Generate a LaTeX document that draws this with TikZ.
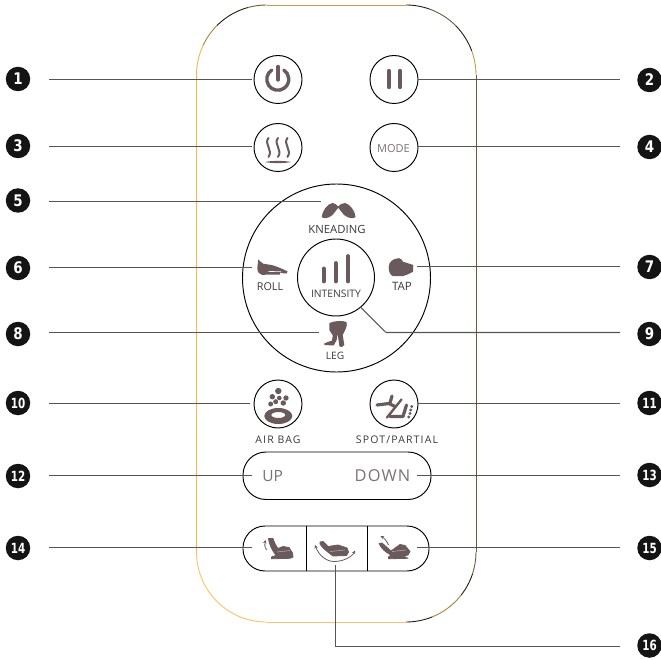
\documentclass[tikz,border=0pt]{standalone}
\usepackage{fontspec}
\setmainfont{Open Sans}
\newfontfamily\badgefont[FakeStretch=0.84]{DejaVu Sans}
\newfontfamily\badgefontb[FakeStretch=0.74]{DejaVu Sans}
\newfontfamily\spacedfont[LetterSpace=11]{Open Sans}
\newfontfamily\downfont[LetterSpace=7]{Open Sans}
\usetikzlibrary{arrows.meta,calc}
\definecolor{ink}{HTML}{6A5A5C}
\definecolor{wire}{HTML}{555555}
\definecolor{labelc}{HTML}{3A3A3A}
\definecolor{greyc}{HTML}{7C7072}
\definecolor{oa}{HTML}{F8B744}
\definecolor{ob}{HTML}{FBC363}
\definecolor{ta}{HTML}{C79A4F}
\definecolor{tb}{HTML}{A98436}
\definecolor{da}{HTML}{241C10}
\definecolor{db}{HTML}{6E5C38}
\tikzset{
  rim/.style={line width=0.9pt},
  btn/.style={circle,draw=black,line width=0.95pt,minimum size=48pt,inner sep=0pt,outer sep=0pt,fill=none},
  pill/.style={draw=black,line width=0.95pt,rounded corners=23pt,inner sep=0pt,outer sep=0pt},
  badge/.style={circle,fill=black!92,minimum size=24.5pt,inner sep=0pt,text=white,font=\badgefont\bfseries\fontsize{16}{16}\selectfont},
  badgeb/.style={badge,font=\badgefontb\bfseries\fontsize{14}{14}\selectfont},
  lead/.style={draw=wire,line width=1.05pt},
  lab/.style={text=labelc,inner sep=0pt,font=\fontsize{10.8}{12}\selectfont},
  spaced/.style={text=labelc,inner sep=0pt,font=\spacedfont\fontsize{10.5}{12}\selectfont},
  bigt/.style={text=greyc,inner sep=0pt,font=\fontsize{15.5}{17}\selectfont},
  icon/.style={line width=3.4pt,draw=ink,line cap=round},
  wave/.style={line width=2pt,draw=ink,line cap=round},
  mass/.style={fill=ink,draw=ink,line width=0.8pt,line join=round},
  seatline/.style={draw=ink!35,line width=0.4pt},
  swing/.style={line width=0.8pt,draw=ink},
}
\begin{document}
\begin{tikzpicture}[x=1pt,y=1pt,yscale=-1]
\useasboundingbox (0,0) rectangle (661,660);
% body outline, colour changing along the rim
\foreach \a/\b/\c in {180/205/oa,205/225/tb,225/255/da,255/270/db}
  \draw[rim,draw=\c] ({266.5+70*cos(\a)},{75+70*sin(\a)}) arc[start angle=\a,end angle=\b,radius=70pt];
\foreach \a/\b/\c in {270/290/da,290/315/db,315/340/da,340/360/ta}
  \draw[rim,draw=\c] ({406+70*cos(\a)},{75+70*sin(\a)}) arc[start angle=\a,end angle=\b,radius=70pt];
\foreach \a/\b/\c in {0/18/db,18/38/da,38/68/tb,68/90/da}
  \draw[rim,draw=\c] ({406+70*cos(\a)},{552+70*sin(\a)}) arc[start angle=\a,end angle=\b,radius=70pt];
\draw[rim,draw=ob] (266.5,622) arc[start angle=90,end angle=180,radius=70pt];
\draw[rim,draw=oa] (196.5,75) -- (196.5,552);
\draw[rim,draw=ob] (266.5,622) -- (406,622);
\draw[rim,draw=db] (476,75) -- (476,552);
\draw[rim,draw=ta] (266.5,5) -- (406,5);

% buttons
\node[btn] (power) at (278,79.5) {};
\node[btn] (pause) at (394,79.5) {};
\node[btn] (heat) at (278,147.5) {};
\node[btn] (mode) at (394,147.5) {};
\node[text=greyc,inner sep=0pt,font=\fontsize{11}{12}\selectfont] (modet) at (393.5,149) {MODE};
\node[btn,minimum size=188pt] (ring) at (336.5,278) {};
\node[btn,minimum size=77pt] (inner) at (336,277.5) {};
\node[btn] (air) at (278,404) {};
\node[btn] (spot) at (394,404) {};
\node[pill,minimum width=188pt,minimum height=47.5pt] (updown) at (337,475.75) {};
\node[pill,rounded corners=22pt,minimum width=186pt,minimum height=45pt] (recline) at (336,548.5) {};
\draw[draw=black,line width=1pt] (306,526) -- (306,571);
\draw[draw=black,line width=1pt] (367,526) -- (367,571);

% labels
\node[lab,font=\fontsize{11.3}{12}\selectfont] (tk) at (337,229) {KNEADING};
\node[lab] (tr) at (270,287) {ROLL};
\node[lab,font=\fontsize{11.5}{12}\selectfont] (tt) at (402,286) {TAP};
\node[lab,font=\fontsize{10.3}{12}\selectfont] (ti) at (336,294) {INTENSITY};
\node[lab,font=\fontsize{10.2}{12}\selectfont] (tl) at (335,356) {LEG};
\node[spaced] (ta) at (278,440) {AIR BAG};
\node[spaced] (ts) at (397,440) {SPOT/PARTIAL};
\node[bigt] (tu) at (272.7,476) {UP};
\node[bigt,font=\downfont\fontsize{16.4}{17}\selectfont] (td) at (382.5,476) {DOWN};

% power
\draw[icon] (271.8,70) arc[start angle=237,end angle=-57,radius=11pt];
\draw[icon] (278,66.5) -- (278,80);
% pause
\draw[line width=4.4pt,draw=ink,line cap=round] (389,71) -- (389,87);
\draw[line width=4.4pt,draw=ink,line cap=round] (400,71) -- (400,87);
% heat
\foreach \xx in {268.5,278,287.5}
  \draw[wave] (\xx,138) .. controls (\xx-5,144) and (\xx+5,150) .. (\xx,157);
\fill[ink] (265,162) .. controls (272,160.5) and (284,160.5) .. (291,162) .. controls (284,163.5) and (272,163.5) .. (265,162) -- cycle;
% kneading
\fill[ink] (321.7,216.5) .. controls (322.5,211) and (327,204) .. (332.5,203) .. controls (335,202.8) and (337,205) .. (338,206.5) .. controls (339.5,205) and (342,202.8) .. (345,203) .. controls (350,204) and (355,211) .. (355.5,216.5) .. controls (355,219) and (349,219) .. (344,215) -- (338.3,207.8) -- (332.5,215) .. controls (328,219) and (322,219) .. (321.7,216.5) -- cycle;
% roll
\fill[ink] (258.3,259.3) .. controls (260,261) and (261.5,263) .. (263.5,263.8) -- (271.7,265) .. controls (277,266.5) and (283,269) .. (287.5,271.5) .. controls (288.5,273) and (286,274) .. (284,273.5) -- (280,272.5) -- (280,274.5) -- (262,274.8) .. controls (259,274.5) and (257.5,272) .. (257.3,268) -- cycle;
\draw[white,line width=0.6pt] (268,271.6) -- (281,271.3);
% tap
\fill[ink] (388.7,267) .. controls (388.7,262) and (393,258.3) .. (399,258.2) .. controls (401,258.2) and (402,260) .. (403,261.7) -- (413.3,265) -- (413,271.7) .. controls (410,273.5) and (407,275) .. (403.3,276) -- (393,276.2) .. controls (390,275) and (388.7,271.7) .. (388.7,267) -- cycle;
% intensity bars
\draw[line width=3.8pt,draw=ink,line cap=round] (323.7,268.5) -- (323.7,281.5);
\draw[line width=3.8pt,draw=ink,line cap=round] (335.7,263) -- (335.7,281.5);
\draw[line width=3.8pt,draw=ink,line cap=round] (348,256) -- (348,281.5);
% leg
\fill[ink] (329.5,323) .. controls (335,320.5) and (343,320.5) .. (346.5,322) .. controls (348,326) and (344.5,331) .. (342.7,335) -- (344.3,345) -- (342,347) -- (339.5,346.5) -- (337.5,333.5) -- (336.7,340) -- (333.7,345.5) -- (324.3,345) -- (324.3,343.3) -- (332,340.5) -- (332.8,335.5) -- (329.3,330) -- cycle;
% air bag
\foreach \xx/\yy/\rr in {278.3/391/3.2,272.3/396.7/2.7,286/398/2.7,279.3/398/2.3,270.7/404/2.5,275.7/401.7/2.5,283.3/403/2.7}
  \fill[ink] (\xx,\yy) circle[radius=\rr pt];
\fill[ink,even odd rule] (278.3,416) ellipse[x radius=14pt,y radius=8pt] (278.3,415) ellipse[x radius=7pt,y radius=3pt];
% spot / partial
\draw[line width=3.2pt,draw=ink,line cap=round,line join=round] (377,405) -- (389,403.5) -- (395,406.5);
\draw[line width=3.2pt,draw=ink,line cap=round] (392,396) -- (390,403);
\draw[line width=2.4pt,draw=ink,line cap=round] (387,417.5) -- (401.5,399.5);
\draw[line width=3.2pt,draw=ink,line cap=round,line join=round] (390,416.5) -- (403,416.5) -- (406.5,405);
\foreach \xx/\yy in {411.7/406.5,410.7/410,410/413.5,408.7/417}
  \fill[ink] (\xx,\yy) circle[radius=1.6pt];
% recline left
\path[mass] (268.5,538.5) -- (273,538.5) .. controls (274,542) and (276,546) .. (278,548.5) -- (283,546.5) -- (289,547.5) -- (292.5,553) -- (293,557) -- (290,558.3) -- (271.5,558.8) -- (271.5,557) -- (276,555.5) .. controls (272,550) and (269,544) .. (268.5,538.5) -- cycle;
\draw[seatline] (277,552) -- (290,550.5);
\draw[swing,-{Stealth[length=3.5pt,width=3.5pt]}] (266.7,550) .. controls (264.5,547) and (264.5,544) .. (265.5,540);
% recline middle
\path[mass] (320,542) -- (323,541.5) -- (328,546.5) -- (338,545) -- (347,548) -- (348.5,552) -- (346.5,555.5) -- (333,556) .. controls (328,552) and (323,549) .. (320,544) -- cycle;
\draw[seatline] (330,551.5) -- (345,550);
\draw[swing,{Stealth[length=3.5pt,width=3.5pt]}-{Stealth[length=3.5pt,width=3.5pt]}] (315,545) .. controls (319,556) and (327,561.5) .. (334,561.5) .. controls (343,561.5) and (352,557) .. (355,550.5);
% recline right
\path[mass] (379,543.5) -- (382,543) -- (391,551) -- (400,544.5) -- (405,545.5) -- (410,551.5) -- (408,555) -- (403,556) -- (408,558.3) -- (388.5,558.8) -- (388.5,557) -- (391,555) .. controls (385,552) and (381,548) .. (379,543.5) -- cycle;
\draw[seatline] (392,551.5) -- (406,550);
\draw[swing,-{Stealth[length=3.5pt,width=3.5pt]}] (388.5,545) .. controls (386.5,540.5) and (384,538) .. (380.5,536);

% badges
\node[badge] (b1) at (18,79) {1};
\node[badge] (b2) at (649.5,80) {2};
\node[badge] (b3) at (18,146) {3};
\node[badge] (b4) at (649.5,147) {4};
\node[badge] (b5) at (18,200.5) {5};
\node[badge] (b6) at (18,268) {6};
\node[badge] (b7) at (649.5,267) {7};
\node[badge] (b8) at (18,334) {8};
\node[badge] (b9) at (649.5,334) {9};
\node[badgeb] (b10) at (18,403) {10};
\node[badgeb] (b11) at (649.5,403) {11};
\node[badgeb] (b12) at (18,476) {12};
\node[badgeb] (b13) at (649.5,475) {13};
\node[badgeb] (b14) at (18,548) {14};
\node[badgeb] (b15) at (649.5,548) {15};
\node[badgeb] (b16) at (649.5,645.5) {16};

% free ends of the leaders
\foreach \n/\xx/\yy in {s1/49/79.5,s3/49/146.5,s5/49/201.5,s6/49/267.5,s8/49/332.5,s10/49/403.5,s12/49/475.5,s14/49/547.5,
  r2/620/79.5,r4/620/146.5,r7/620/266.5,r9/620/332.5,r11/620/403.5,r13/620/475.5,r15/620/547.5,r16/620/646.5,
  e1/251.5/79.5,e3/251.5/146.5,e5/320.7/201.5,e6/251.7/267.5,e8/319/332.5,e10/250/403.5,e12/252/475.5,e14/252/547.5,
  e2/418/79.5,e4/417/146.5,e7/416.7/266.5,e9/360/306.7,k9/386/332.5,e11/418/403.5,e13/416.7/475.5,e15/416.7/547.5,e16/335.5/565,k16/335.5/646.5}
  \coordinate (\n) at (\xx,\yy);
\draw[lead] (s1) -- (e1);
\draw[lead] (r2) -- (e2);
\draw[lead] (s3) -- (e3);
\draw[lead] (r4) -- (e4);
\draw[lead] (s5) -- (e5);
\draw[lead] (s6) -- (e6);
\draw[lead] (r7) -- (e7);
\draw[lead] (s8) -- (e8);
\draw[lead] (r9) -- (k9) -- (e9);
\draw[lead] (s10) -- (e10);
\draw[lead] (r11) -- (e11);
\draw[lead] (s12) -- (e12);
\draw[lead] (r13) -- (e13);
\draw[lead] (s14) -- (e14);
\draw[lead] (r15) -- (e15);
\draw[lead] (r16) -- (k16) -- (e16);
\end{tikzpicture}
\end{document}
